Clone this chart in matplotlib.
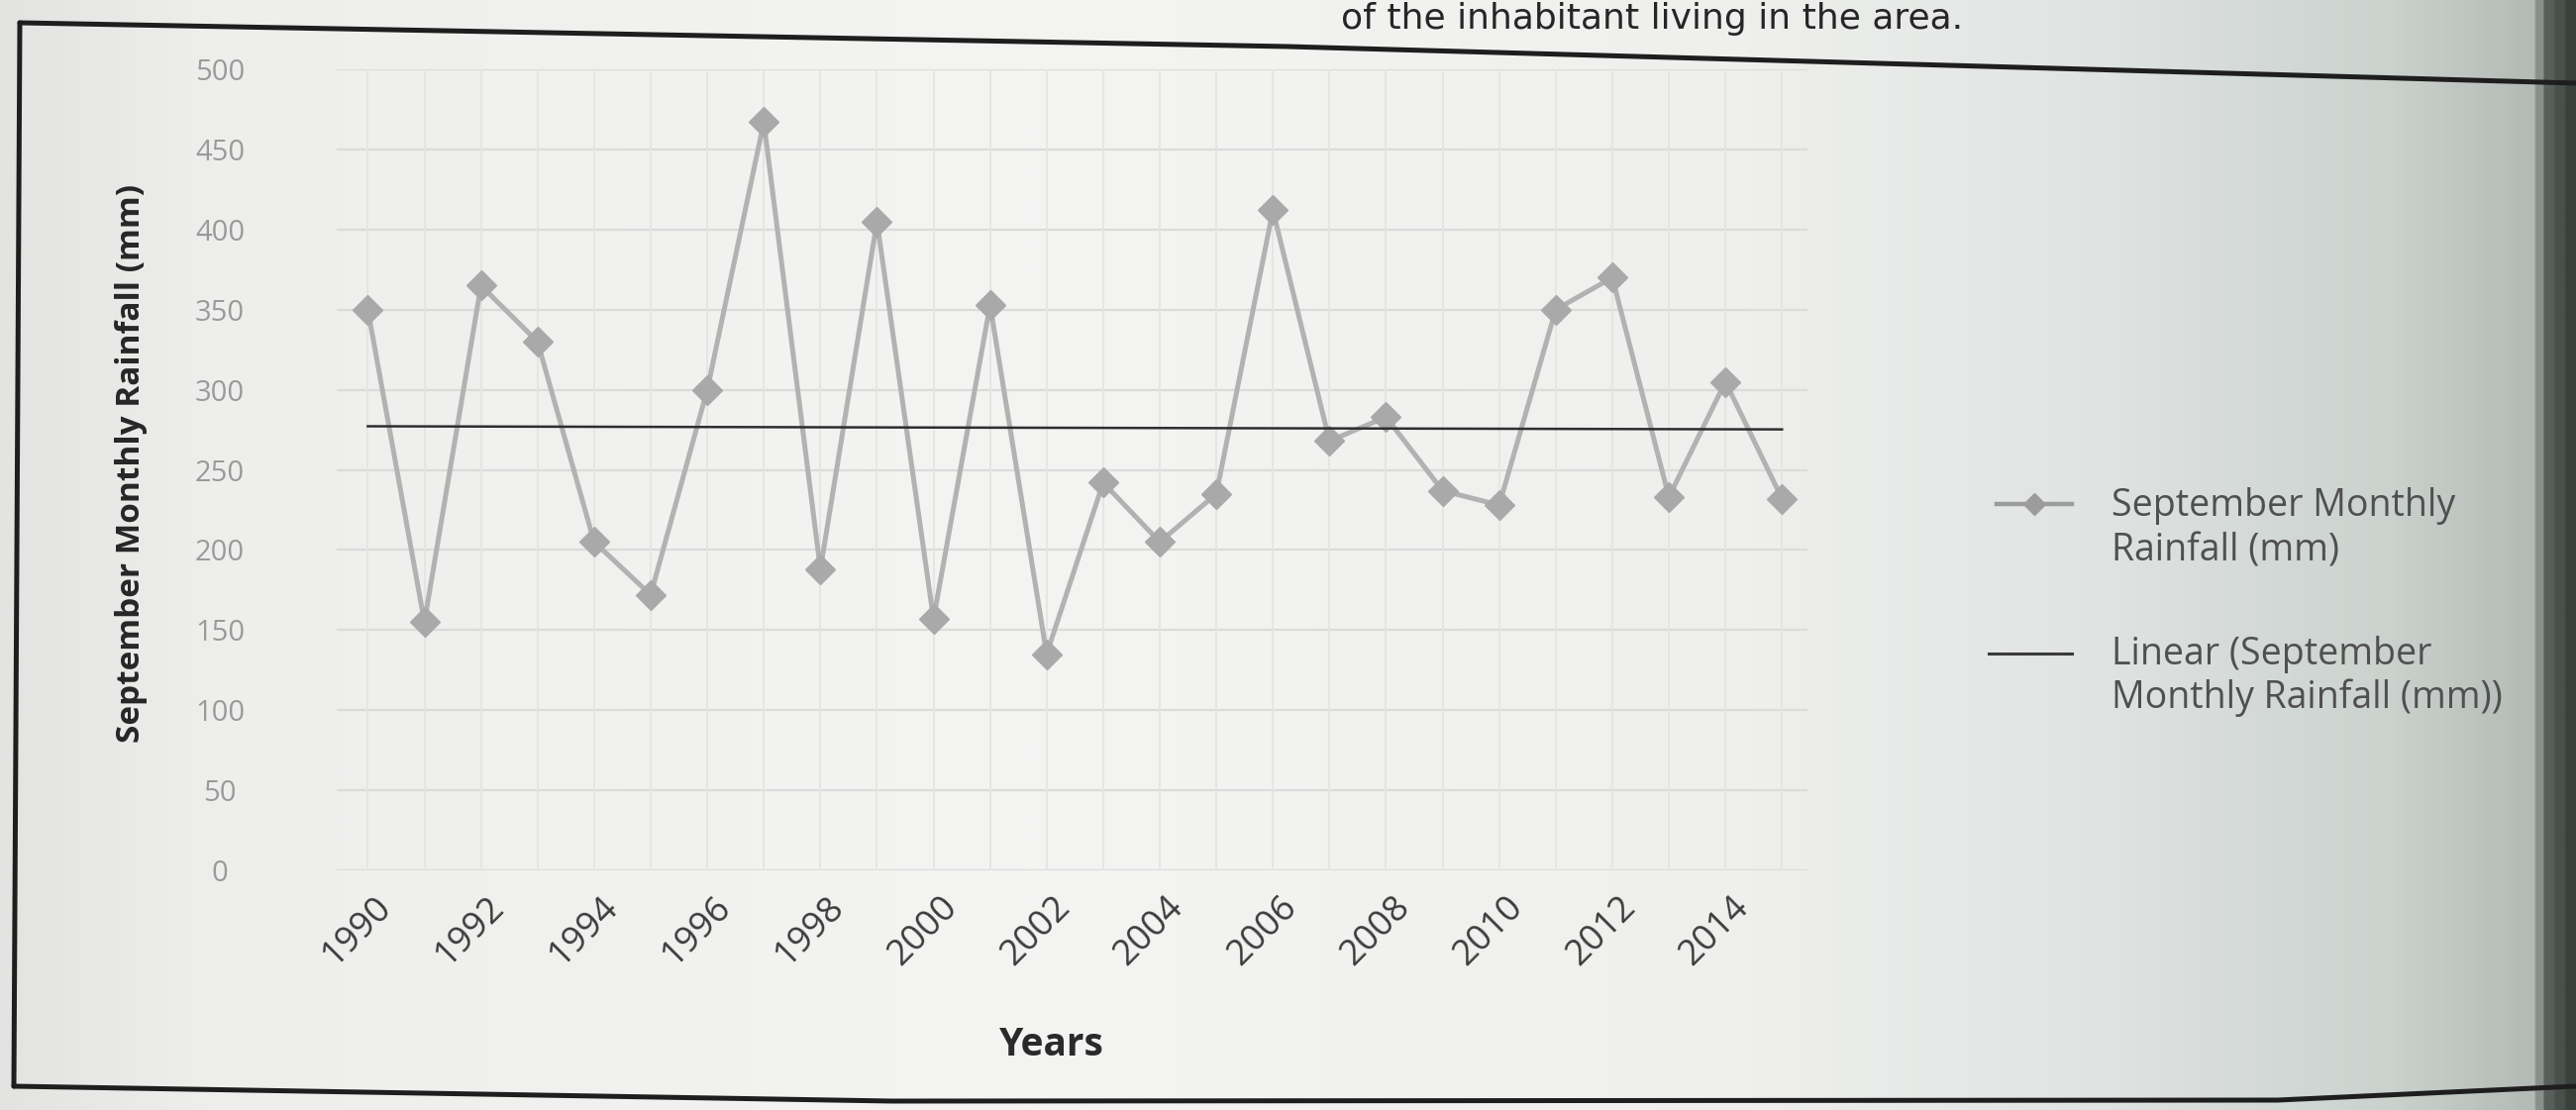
import numpy as np
import matplotlib
matplotlib.use("Agg")
import matplotlib.pyplot as plt
from matplotlib.lines import Line2D
from matplotlib.colors import LinearSegmentedColormap
import matplotlib.transforms as mtransforms

# September monthly rainfall (mm), 1990-2015
years = list(range(1990, 2016))
rainfall = [350, 155, 365, 330, 205, 172, 300, 467, 188, 405,
            157, 353, 135, 242, 205, 235, 412, 268, 283, 237,
            228, 350, 370, 233, 305, 232]
year_ticks = list(range(1990, 2016, 2))
y_ticks = list(range(0, 501, 50))

series_label = "September Monthly\nRainfall (mm)"
trend_label = "Linear (September\nMonthly Rainfall (mm))"
y_title = "September Monthly Rainfall (mm)"
x_title = "Years"
page_text = "of the inhabitant living in the area."

W, H = 2601, 1121
fig = plt.figure(figsize=(W / 100, H / 100), dpi=100)

# paper background: light page that greys towards the right edge
bg = fig.add_axes([0, 0, 1, 1], zorder=-10)
paper = LinearSegmentedColormap.from_list(
    "paper",
    [(0.0, "#e3e4e2"), (0.08, "#eeefed"), (0.4, "#f4f4f3"), (0.68, "#eff0ee"),
     (0.82, "#dfe3e1"), (0.93, "#cbd2ce"), (0.985, "#b4bbb7"),
     (0.992, "#59605c"), (1.0, "#3a403c")])
grad = np.linspace(0, 1, 1200)[None, :]
bg.imshow(grad, cmap=paper, aspect="auto", extent=[0, 1, 0, 1],
          interpolation="bilinear")
bg.set_xlim(0, 1)
bg.set_ylim(0, 1)
bg.axis("off")


def px(x, y):
    """Pixel position (y measured from the top) to figure fraction."""
    return x / W, 1 - y / H


# page frame around the chart
frame_top = [(20, 23), (1300, 47), (2601, 84)]
frame_bottom = [(14, 1097), (900, 1112), (2300, 1111), (2601, 1097)]
frame_left = [(20, 23), (14, 1097)]
for seg in (frame_top, frame_bottom, frame_left):
    xs, ys = zip(*[px(*p) for p in seg])
    fig.add_artist(Line2D(xs, ys, color="#1e1e1e", lw=3.6,
                          transform=fig.transFigure, solid_capstyle="round"))

# text line of the page above the chart
fig.text(1982 / W, 1 - 29 / H, page_text, ha="right", va="baseline",
         fontsize=26, color="#262626", family="DejaVu Sans")

# chart area
left, right, top, bot = 340, 1825, 70, 879
ax = fig.add_axes([left / W, 1 - bot / H, (right - left) / W, (bot - top) / H])
ax.set_facecolor("none")
ax.set_xlim(1989.45, 2015.45)
ax.set_ylim(0, 500)

for y in y_ticks:
    ax.axhline(y, color="#dadcda", lw=1.6, zorder=0)
for x in years:
    ax.axvline(x, color="#e4e5e3", lw=1.3, zorder=0)

ax.plot(years, rainfall, color="#b2b2b2", lw=3.6, marker="D", markersize=15,
        markerfacecolor="#a9a9a9", markeredgecolor="#a9a9a9", zorder=3)

coef = np.polyfit(years, rainfall, 1)
trend_x = np.array([years[0], years[-1]])
ax.plot(trend_x, np.polyval(coef, trend_x), color="#2e2e2e", lw=1.8, zorder=4)

for s in ax.spines.values():
    s.set_visible(False)
ax.tick_params(length=0)

ax.set_yticks(y_ticks)
ax.set_yticklabels([str(v) for v in y_ticks], fontsize=21, color="#9a9a9a",
                   family="Open Sans")
ax.tick_params(axis="y", pad=85)
for lab in ax.get_yticklabels():
    lab.set_horizontalalignment("center")

ax.set_xticks(year_ticks)
ax.set_xticklabels([str(v) for v in year_ticks], fontsize=26, color="#3c3c3c",
                   family="Open Sans", rotation=45, ha="right", va="top",
                   rotation_mode="anchor")
ax.tick_params(axis="x", pad=14)
shift = mtransforms.ScaledTranslation(6 / 100, 0, fig.dpi_scale_trans)
for lab in ax.get_xticklabels():
    lab.set_transform(lab.get_transform() + shift)

fig.text(133 / W, 1 - 468 / H, y_title, rotation=90, ha="center", va="center",
         fontsize=24, fontweight="bold", color="#262626", family="Open Sans")
fig.text(1062 / W, 1 - 1055 / H, x_title, ha="center", va="center",
         fontsize=28, fontweight="bold", color="#2a2a2a", family="Open Sans")

# legend entries
lx0, lx1, tx = 2016, 2092, 2132
y1, y2 = 509, 660
fig.add_artist(Line2D([px(lx0, y1)[0], px(lx1, y1)[0]], [px(0, y1)[1]] * 2,
                      color="#9c9c9c", lw=3.2, transform=fig.transFigure))
fig.add_artist(Line2D([px((lx0 + lx1) / 2, y1)[0]], [px(0, y1)[1]],
                      color="#9c9c9c", marker="D", markersize=11, lw=0,
                      transform=fig.transFigure))
fig.add_artist(Line2D([px(lx0 - 8, y2)[0], px(lx1, y2)[0]], [px(0, y2)[1]] * 2,
                      color="#3a3a3a", lw=2.2, transform=fig.transFigure))

fig.text(tx / W, 1 - 534 / H, series_label, ha="left", va="center",
         fontsize=27, color="#505050", family="Open Sans", linespacing=1.25)
fig.text(tx / W, 1 - 683 / H, trend_label, ha="left", va="center",
         fontsize=27, color="#505050", family="Open Sans", linespacing=1.2)

fig.savefig("out.png", dpi=100)
